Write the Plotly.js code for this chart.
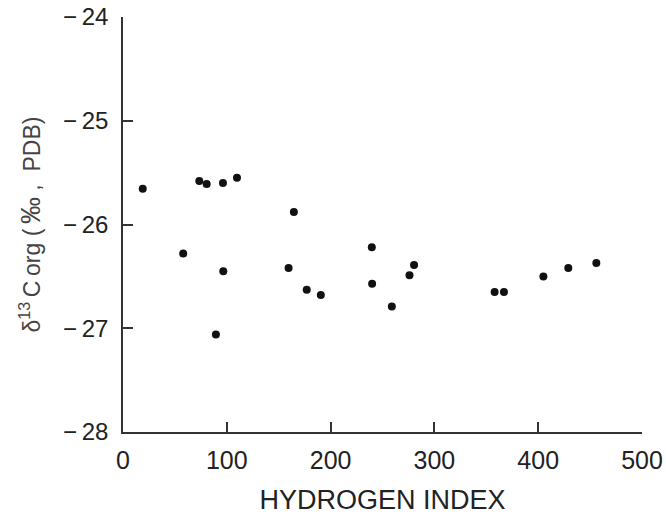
<!DOCTYPE html>
<html>
<head>
<meta charset="utf-8">
<script src="https://cdn.plot.ly/plotly-3.0.1.min.js"></script>
<style>html,body{margin:0;padding:0;background:#fff;}</style>
</head>
<body>
<div id="chart" style="width:666px;height:515px;"></div>
<script>
// Hydrogen index vs δ13C of organic carbon
const hydrogenIndex = [19, 73.5, 80.6, 96.3, 109.8, 58, 96.6, 89.5, 164.6, 159.5, 177, 190.6,
                       239.7, 240, 259, 276, 280.4, 358, 367, 405, 429, 456];
const d13Corg = [-25.655, -25.58, -25.61, -25.60, -25.55, -26.28, -26.45, -27.06, -25.88, -26.42, -26.63, -26.68,
                 -26.22, -26.57, -26.79, -26.49, -26.39, -26.65, -26.65, -26.50, -26.42, -26.37];

const xTickVals = [0, 100, 200, 300, 400, 500];
const xTickText = ["0", "100", "200", "300", "400", "500"];
const yTickVals = [-28, -27, -26, -25, -24];
const yTickText = ["\u2212\u200928", "\u2212\u200927", "\u2212\u200926", "\u2212\u200925", "\u2212\u200924"];

const xTitle = "HYDROGEN INDEX";
const yTitle = "\u03b4<sup>13</sup>\u2009C\u2009org\u00a0(\u2009<span style=\"font-size:27px\">\u2030</span>\u00a0,\u00a0\u00a0PDB)\u00a0\u00a0";

const trace = {
  type: "scatter",
  mode: "markers",
  x: hydrogenIndex,
  y: d13Corg,
  marker: {color: "#111", size: 8},
  cliponaxis: false,
  hoverinfo: "x+y"
};

const fam = "Liberation Sans, Arial, Helvetica, sans-serif";

const layout = {
  width: 666,
  height: 515,
  margin: {l: 123, r: 24, t: 17, b: 83},
  paper_bgcolor: "#fff",
  plot_bgcolor: "#fff",
  showlegend: false,
  font: {family: fam, color: "#222"},
  xaxis: {
    range: [0, 500],
    tickmode: "array",
    tickvals: xTickVals,
    ticktext: xTickText,
    ticks: "inside",
    ticklen: 10,
    tickwidth: 1.5,
    tickcolor: "#333",
    showline: true,
    linecolor: "#333",
    linewidth: 1.5,
    showgrid: false,
    zeroline: false,
    tickfont: {size: 25, family: fam, color: "#222"},
    ticklabelstandoff: 5,
    title: {text: xTitle, font: {size: 27, family: fam, color: "#222"}, standoff: 19}
  },
  yaxis: {
    range: [-28, -24],
    tickmode: "array",
    tickvals: yTickVals,
    ticktext: yTickText,
    ticks: "inside",
    ticklen: 10,
    tickwidth: 1.5,
    tickcolor: "#333",
    showline: true,
    linecolor: "#333",
    linewidth: 1.5,
    showgrid: false,
    zeroline: false,
    tickfont: {size: 24, family: fam, color: "#222"},
    ticklabelstandoff: 8,
    title: {text: yTitle, font: {size: 23, family: fam, color: "#444"}, standoff: 16}
  }
};

Plotly.newPlot("chart", [trace], layout, {displayModeBar: false});
</script>
</body>
</html>
